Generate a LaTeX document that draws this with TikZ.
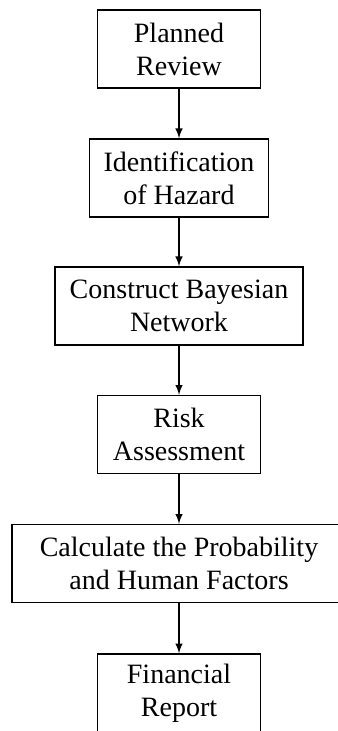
\documentclass[tikz,border=0pt]{standalone}
\usepackage{fontspec}
\setmainfont{Liberation Serif}
\newcommand{\myfontbox}{\fontsize{14}{16.5}\selectfont}
\begin{document}
\begin{tikzpicture}[x=0.5pt,y=-0.5pt,
		flowbox/.style={draw, line width=0.7pt, minimum height=39pt, inner sep=0pt, align=center, font=\myfontbox},
		flowarrow/.style={line width=0.7pt, -latex}]
		%Frame of the picture
		\useasboundingbox (0,0) rectangle (337,731);
		%Centers of the boxes
		\coordinate (center1) at (179,49);
		\coordinate (center2) at (179,178);
		\coordinate (center3) at (179,306);
		\coordinate (center4) at (179,434.5);
		\coordinate (center5) at (179,563.5);
		\coordinate (center6) at (179,693);
		%The boxes
		\node [flowbox, minimum width=81.5pt] (box1) at (center1) {Planned\\Review};
		\node [flowbox, minimum width=89.5pt] (box2) at (center2) {Identification\\of Hazard};
		\node [flowbox, minimum width=124pt] (box3) at (center3) {Construct Bayesian\\Network};
		\node [flowbox, minimum width=81.5pt] (box4) at (center4) {Risk\\Assessment};
		\node [flowbox, minimum width=167pt] (box5) at (center5) {Calculate the Probability\\and Human Factors};
		\node [flowbox, minimum width=81.5pt] (box6) at (center6) {Financial\\Report};
		%Arrows between the boxes
		\foreach \i [evaluate=\i as \j using int(\i+1)] in {1,...,5} {
			\draw [flowarrow] (box\i.south) -- (box\j.north);
		}
\end{tikzpicture}
\end{document}
